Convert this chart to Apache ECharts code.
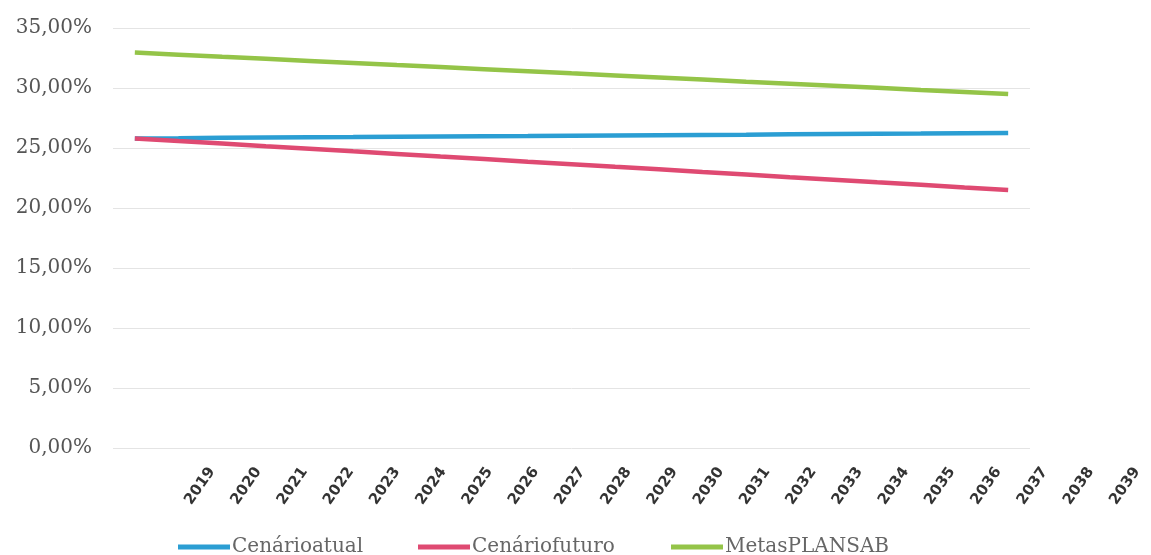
<!DOCTYPE html>
<html>
<head>
<meta charset="utf-8">
<script src="https://cdn.jsdelivr.net/npm/echarts@6/dist/echarts.min.js"></script>
<style>
html,body{margin:0;padding:0;background:#fff;}
#chart{width:1151px;height:555px;}
</style>
</head>
<body>
<div id="chart"></div>
<script>
const years = ['2019','2020','2021','2022','2023','2024','2025','2026','2027','2028','2029','2030','2031','2032','2033','2034','2035','2036','2037','2038','2039'];
const yTickLabels = ['0,00%','5,00%','10,00%','15,00%','20,00%','25,00%','30,00%','35,00%'];
const cenarioAtual = [25.80,25.82,25.85,25.87,25.89,25.91,25.94,25.96,25.98,26.00,26.03,26.05,26.07,26.09,26.11,26.14,26.16,26.18,26.20,26.23,26.25];
const cenarioFuturo = [25.80,25.58,25.37,25.15,24.94,24.72,24.51,24.29,24.08,23.86,23.65,23.43,23.22,23.00,22.79,22.57,22.36,22.14,21.93,21.71,21.50];
const metasPlansab = [32.95,32.78,32.60,32.43,32.26,32.09,31.91,31.74,31.57,31.40,31.22,31.05,30.88,30.71,30.53,30.36,30.19,30.02,29.84,29.67,29.50];
const seriesNames = ['Cenárioatual','Cenáriofuturo','MetasPLANSAB'];
const colors = ['#2b9ed3','#df4a72','#94c448'];

const chart = echarts.init(document.getElementById('chart'), null, {renderer:'canvas'});
const serifFont = '"DejaVu Serif", "Liberation Serif", serif';
function legendFor(i, left){
  return {
    data:[seriesNames[i]], left:left, top:532, itemWidth:52, itemHeight:5, icon:'rect',
    itemGap:0, textStyle:{fontFamily:serifFont, fontSize:20, color:'#666', padding:[0,0,0,-3]}
  };
}
chart.setOption({
  animation:false,
  color:colors,
  legend:[legendFor(0,173), legendFor(1,413), legendFor(2,666)],
  grid:[
    {left:113, right:121, top:28, bottom:107},
    {left:212, right:14, top:28, bottom:107}
  ],
  xAxis:[
    {type:'category', gridIndex:0, data:years, boundaryGap:true,
     axisLine:{show:false}, axisTick:{show:false}, axisLabel:{show:false}},
    {type:'category', gridIndex:1, data:years, boundaryGap:false,
     axisLine:{show:false}, axisTick:{show:false}, splitLine:{show:false},
     axisLabel:{show:true, interval:0, rotate:55, margin:21,
       fontFamily:'"DejaVu Sans", sans-serif', fontWeight:'bold', fontSize:15, color:'#333'}}
  ],
  yAxis:[
    {type:'value', gridIndex:0, min:0, max:35, interval:5,
     axisLine:{show:false}, axisTick:{show:false},
     splitLine:{lineStyle:{color:'#e4e4e4', width:1}},
     axisLabel:{margin:21, fontFamily:serifFont, fontSize:20, color:'#555',
       formatter:function(v){return yTickLabels[Math.round(v/5)];}}},
    {type:'value', gridIndex:1, min:0, max:35, show:false}
  ],
  series:[
    {name:seriesNames[0], type:'line', xAxisIndex:0, yAxisIndex:0, data:cenarioAtual, showSymbol:false, lineStyle:{width:4.5, color:colors[0]}},
    {name:seriesNames[1], type:'line', xAxisIndex:0, yAxisIndex:0, data:cenarioFuturo, showSymbol:false, lineStyle:{width:4.5, color:colors[1]}},
    {name:seriesNames[2], type:'line', xAxisIndex:0, yAxisIndex:0, data:metasPlansab, showSymbol:false, lineStyle:{width:4.5, color:colors[2]}}
  ]
});
</script>
</body>
</html>
